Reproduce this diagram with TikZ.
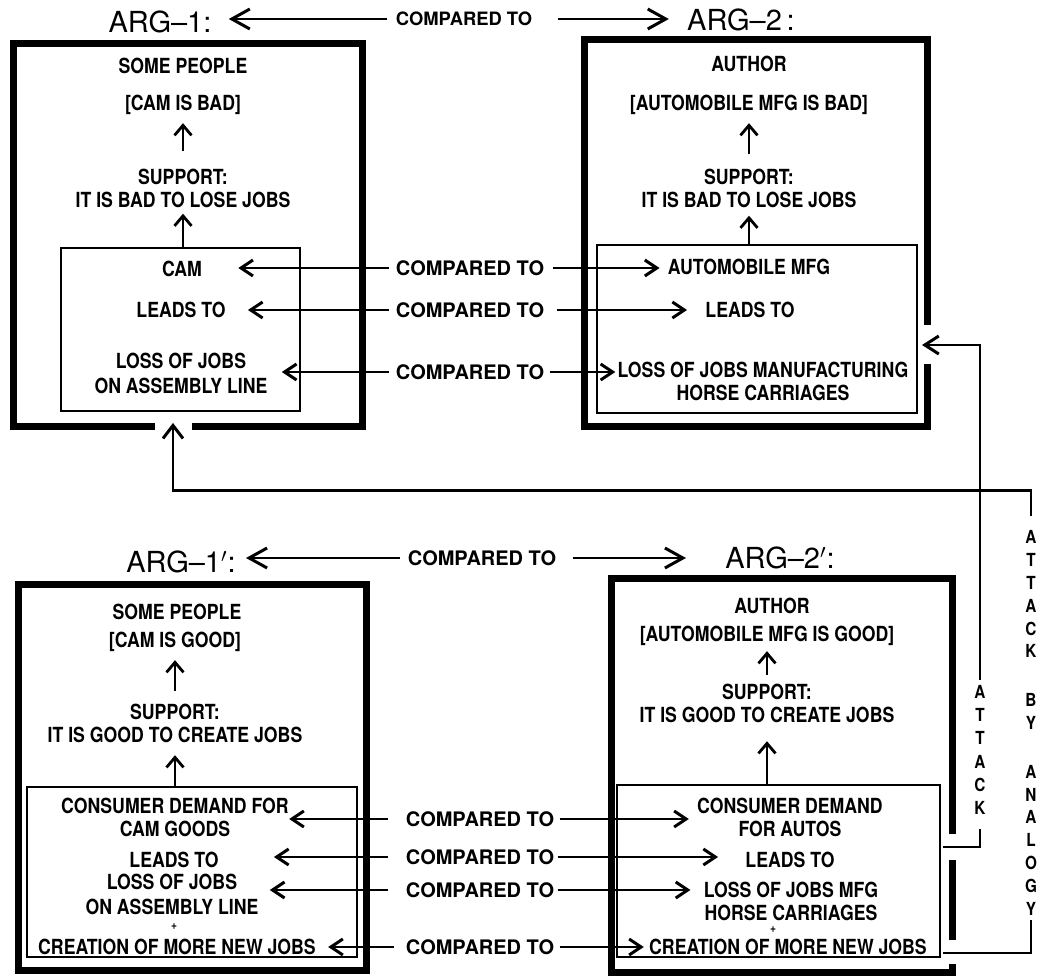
\documentclass[tikz,border=0pt]{standalone}
\usepackage{fontspec}
\setmainfont{TeX Gyre Heros}
\newfontfamily\lett{TeX Gyre Heros}[FakeStretch=0.85]
\usepackage{tikz}
\usetikzlibrary{arrows.meta,calc}
\newcommand{\txtf}{\lett\bfseries\fontsize{10.4}{11.5}\selectfont}
\newcommand{\cmpf}{\bfseries\fontsize{10}{12}\selectfont}
\newcommand{\argf}{\fontsize{14.5}{16}\selectfont}
\newcommand{\vtf}{\lett\bfseries\fontsize{9}{11.6}\selectfont}
\newcommand{\plusf}{\lett\bfseries\fontsize{6}{6}\selectfont}
\tikzset{
 txt/.style={font=\txtf,inner sep=0pt,align=center},
 cmp/.style={font=\cmpf,inner sep=0pt},
 arglab/.style={font=\argf,inner sep=0pt},
 vtxt/.style={font=\vtf,inner xsep=0pt,inner ysep=7pt,align=center},
 conn/.style={line width=1.2pt,-{Straight Barb[length=6pt,width=8pt,line width=1.5pt]}},
 argconn/.style={line width=1.2pt,-{Straight Barb[length=9pt,width=10pt,line width=1.5pt]}},
 upar/.style={line width=1pt,-{Straight Barb[length=5pt,width=8.5pt,line width=1.4pt]}},
 atk/.style={line width=1.2pt},
 atkarr/.style={atk,-{Straight Barb[length=7pt,width=9pt,line width=1.5pt]}},
 atkup/.style={atk,-{Straight Barb[length=6.5pt,width=10pt,line width=1.5pt]}},
 frame/.style={line width=3.5pt,line join=miter},
 inbox/.style={line width=1pt},
}

\begin{document}
\begin{tikzpicture}[x=0.5pt,y=-0.5pt]
 \path[use as bounding box,fill=white] (0,0) rectangle (1040,978);
 \draw[frame] (155,427) -- (13,427) -- (13,44) -- (362,44) -- (362,427) -- (192,427);
 \draw[frame] (927,364) -- (927,427) -- (584,427) -- (584,40) -- (927,40) -- (927,325);
 \draw[frame] (18,585) rectangle (366,970);
 \draw[frame] (952,834) -- (952,579) -- (611,579) -- (611,972) -- (952,972) -- (952,964);
 \draw[frame] (952,860) -- (952,940);
 \coordinate (ib1) at (61,248); \coordinate (ib2) at (597,245);
 \coordinate (ib3) at (27,787); \coordinate (ib4) at (617,785);
 \draw[inbox] (ib1) rectangle (300,411);
 \draw[inbox] (ib2) rectangle (917,413);
 \draw[inbox] (ib3) rectangle (357,957);
 \draw[inbox] (ib4) rectangle (940,957);
 % upper pair
 \node[arglab] (arg1) at (160,22) {ARG–1:};
 \node[cmp,font=\bfseries\fontsize{9.2}{11}\selectfont] (cmp1) at (464,19) {COMPARED TO};
 \node[arglab] (arg2) at (741,20) {ARG–2\,:};
 \draw[argconn,shorten <=4pt,shorten >=8.5pt] (cmp1.west) -- (cmp1.west -| arg1.east);
 \draw[argconn,shorten <=12.5pt,shorten >=9pt] (cmp1.east) -- (cmp1.east -| arg2.west);
 \node[txt] (p1) at (183,66) {SOME PEOPLE};
 \node[txt] (c1) at (183,105) {[CAM IS BAD]};
 \node[txt] (s1) at (183,188) {SUPPORT:\\IT IS BAD TO LOSE JOBS};
 \node[txt] (cam) at (182,269) {CAM};
 \node[txt] (ld1) at (181,310) {LEADS TO};
 \node[txt] (loss1) at (181,373.5) {LOSS OF JOBS\\[1pt]ON ASSEMBLY LINE};
 \node[txt] (au1) at (749,64) {AUTHOR};
 \node[txt] (ab1) at (749,105) {[AUTOMOBILE MFG IS BAD]};
 \node[txt] (s2) at (749,188) {SUPPORT:\\IT IS BAD TO LOSE JOBS};
 \node[txt] (am) at (749,267) {AUTOMOBILE MFG};
 \node[txt] (ld2) at (750,310) {LEADS TO};
 \node[txt] (loss2) at (763,381) {LOSS OF JOBS MANUFACTURING\\HORSE CARRIAGES};
 \draw[upar,shorten <=8.5pt,shorten >=4pt] (s1.north) -- (c1.south);
 \draw[upar,shorten >=3pt] (s1.south |- ib1) -- (s1.south);
 \draw[upar,shorten <=7pt,shorten >=4pt] (s2.north) -- (ab1.south);
 \draw[upar,shorten >=4pt] (s2.south |- ib2) -- (s2.south);
 \node[cmp] (m1) at (470,268) {COMPARED TO};
 \node[cmp] (m2) at (470,310) {COMPARED TO};
 \node[cmp] (m3) at (470,372) {COMPARED TO};
 \draw[conn,shorten <=3.5pt,shorten >=18pt] (m1.west) -- (m1.west -| cam.east);
 \draw[conn,shorten <=3.5pt,shorten >=11pt] (m2.west) -- (m2.west -| ld1.east);
 \draw[conn,shorten <=3.5pt,shorten >=7pt] (m3.west) -- (m3.west -| loss1.east);
 \draw[conn,shorten <=4pt,shorten >=4pt] (m1.east) -- (m1.east -| am.west);
 \draw[conn,shorten <=6pt,shorten >=9pt] (m2.east) -- (m2.east -| ld2.west);
 \draw[conn,shorten <=2.5pt,shorten >=1pt] (m3.east) -- (m3.east -| loss2.west);
 % lower pair
 \node[arglab] (arg3) at (181,562) {ARG–1$'$:};
 \node[cmp] (cmp2) at (482,558) {COMPARED TO};
 \node[arglab] (arg4) at (780,558) {ARG–2$'$:};
 \draw[argconn,shorten <=4pt,shorten >=5pt] (cmp2.west) -- (cmp2.west -| arg3.east);
 \draw[argconn,shorten <=8pt,shorten >=19.5pt] (cmp2.east) -- (cmp2.east -| arg4.west);
 \node[txt] (p2) at (177,612) {SOME PEOPLE};
 \node[txt] (c2) at (175,642) {[CAM IS GOOD]};
 \node[txt] (s3) at (175,723.5) {SUPPORT:\\IT IS GOOD TO CREATE JOBS};
 \node[txt] (cd1) at (175,817.5) {CONSUMER DEMAND FOR\\CAM GOODS};
 \node[txt] (ld3) at (174,860) {LEADS TO};
 \node[txt] (loss3) at (172,894.5) {LOSS OF JOBS\\[1pt]ON ASSEMBLY LINE};
 \node[txt,font=\plusf] (pl3) at (174,927) {+};
 \node[txt] (cr3) at (177,947) {CREATION OF MORE NEW JOBS};
 \node[txt] (au2) at (772,606) {AUTHOR};
 \node[txt] (ab2) at (767,636) {[AUTOMOBILE MFG IS GOOD]};
 \node[txt] (s4) at (767,703.5) {SUPPORT:\\IT IS GOOD TO CREATE JOBS};
 \node[txt] (cd2) at (790,817.5) {CONSUMER DEMAND\\FOR AUTOS};
 \node[txt] (ld4) at (790,860) {LEADS TO};
 \node[txt] (loss4) at (791,901.5) {LOSS OF JOBS MFG\\HORSE CARRIAGES};
 \node[txt,font=\plusf] (pl4) at (773,930) {+};
 \node[txt] (cr4) at (788,947) {CREATION OF MORE NEW JOBS};
 \draw[upar,shorten <=6.5pt,shorten >=4pt] (s3.north) -- (c2.south);
 \draw[upar,shorten >=6pt] (s3.south |- ib3) -- (s3.south);
 \draw[upar,shorten <=4.5pt,shorten >=2.5pt] (s4.north) -- (ab2.south);
 \draw[upar,shorten >=9pt] (s4.south |- ib4) -- (s4.south);
 \node[cmp] (n1) at (480,819) {COMPARED TO};
 \node[cmp] (n2) at (480,857) {COMPARED TO};
 \node[cmp] (n3) at (480,890) {COMPARED TO};
 \node[cmp] (n4) at (480,947) {COMPARED TO};
 \draw[conn,shorten <=9pt] (n1.west) -- (n1.west -| cd1.east);
 \draw[conn,shorten <=9pt,shorten >=27.5pt] (n2.west) -- (n2.west -| ld3.east);
 \draw[conn,shorten <=9pt,shorten >=5.5pt] (n3.west) -- (n3.west -| loss3.east);
 \draw[conn,shorten <=6pt,shorten >=6pt] (n4.west) -- (n4.west -| cr3.east);
 \draw[conn,shorten <=2.5pt,shorten >=4pt] (n1.east) -- (n1.east -| cd2.west);
 \draw[conn,shorten <=1.5pt,shorten >=13.5pt] (n2.east) -- (n2.east -| ld4.west);
 \draw[conn,shorten <=1.5pt,shorten >=6.5pt] (n3.east) -- (n3.east -| loss4.west);
 \draw[conn,shorten <=2.5pt,shorten >=2.5pt] (n4.east) -- (n4.east -| cr4.west);
 % attacks
 \node[vtxt] (att) at (980,750) {A\\T\\T\\A\\C\\K};
 \node[vtxt,font=\lett\bfseries\fontsize{9}{11.4}\selectfont] (aba) at (1031,723)
  {A\\T\\T\\A\\C\\K\\[13pt]B\\Y\\[13pt]A\\N\\A\\L\\O\\G\\Y};
 \coordinate (hit1) at (173,423); \coordinate (hit2) at (922,345);
 \coordinate (out1) at (943,847); \coordinate (out2) at (943,953);
 \draw[atk] (out1) -| (att.south);
 \draw[atkarr,shorten <=-4.5pt] (att.north) |- (hit2);
 \draw[atk,shorten >=-5pt] (out2) -| (aba.south);
 \draw[atkup] (aba.north) -- ++(0,-26) -| (hit1);
\end{tikzpicture}
\end{document}
